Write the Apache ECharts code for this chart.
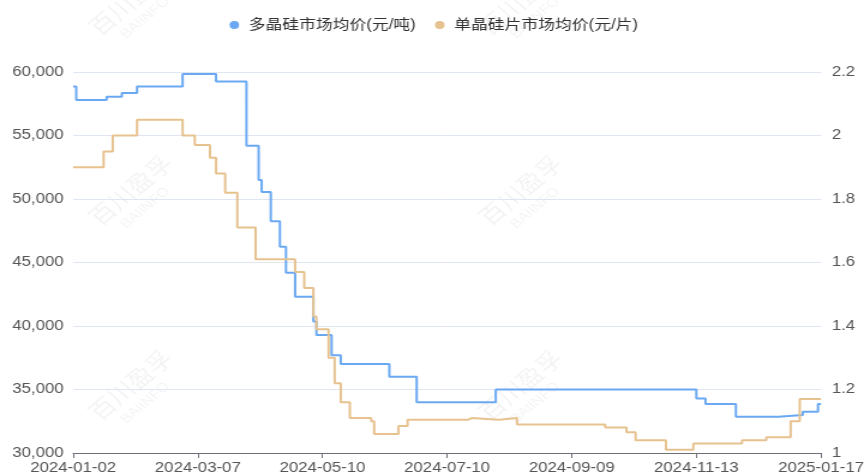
<!DOCTYPE html>
<html>
<head>
    <meta charset="utf-8">
    <title>多晶硅 / 单晶硅片市场均价</title>
    <script src="https://cdn.jsdelivr.net/npm/echarts@6/dist/echarts.min.js"></script>
    <style>
        html, body { margin: 0; padding: 0; overflow: hidden; background: #fff; }
        /* the original picture is stretched sideways, so draw narrow and widen it */
        #main { width: 723px; height: 476px; transform: scaleX(1.2); transform-origin: 0 0; }
    </style>
</head>
<body>
<div id="main"></div>
<script type="text/javascript">
    // x 轴刻度（每 41 个交易日一个）
    var xTickLabels = ['2024-01-02', '2024-03-07', '2024-05-10', '2024-07-10', '2024-09-09', '2024-11-13', '2025-01-17'];
    var tickStep = 41;

    // 多晶硅市场均价(元/吨)：价格变动的交易日序号与价格
    var polyDays   = [0, 1, 11, 16, 21, 36, 47, 57, 61, 62, 65, 68, 70, 73, 79, 80, 85, 88, 104, 113, 139, 205, 208, 218, 232, 240, 245, 246];
    var polyPrices = [58850, 57800, 58050, 58350, 58850, 59850, 59250, 54200, 51500, 50550, 48250, 46250, 44200, 42300, 40350, 39300, 37700, 37000, 36000, 34000, 35000, 34300, 33850, 32850, 33000, 33250, 33850, 33850];

    // 单晶硅片市场均价(元/片)
    var waferDays   = [0, 10, 13, 21, 36, 40, 45, 47, 50, 54, 60, 73, 76, 79, 80, 84, 86, 88, 91, 98, 99, 107, 110, 130, 131, 140, 146, 175, 182, 185, 195, 204, 220, 228, 236, 239, 246];
    var waferPrices = [1.90, 1.95, 2.00, 2.05, 2.00, 1.97, 1.93, 1.88, 1.82, 1.71, 1.61, 1.57, 1.52, 1.43, 1.39, 1.30, 1.22, 1.16, 1.11, 1.10, 1.06, 1.085, 1.105, 1.11, 1.105, 1.11, 1.09, 1.08, 1.065, 1.04, 1.01, 1.03, 1.04, 1.05, 1.10, 1.17, 1.17];

    function pairs(days, prices) {
        return days.map(function (d, i) { return [d, prices[i]]; });
    }

    // 水印
    var marks = [[108, 5], [433, 5], [108, 195], [433, 195], [108, 390], [433, 390]];
    var graphic = marks.map(function (p) {
        return {
            type: 'group', x: p[0], y: p[1], rotation: Math.PI / 4, silent: true, z: -1,
            children: [
                { type: 'text', x: -40, y: -14, style: { text: '百川盈孚', font: '22px "Noto Sans CJK SC"', fill: 'rgba(0,0,0,0.05)' } },
                { type: 'text', x: -26, y: 12, style: { text: 'BAIINFO', font: '13px "Liberation Sans"', fill: 'rgba(0,0,0,0.05)' } }
            ]
        };
    });

    var myChart = echarts.init(document.getElementById('main'));
    myChart.setOption({
        animation: false,
        textStyle: { fontFamily: '"Liberation Sans", "Noto Sans CJK SC", sans-serif' },
        graphic: graphic,
        tooltip: { trigger: 'axis' },
        legend: {
            top: 13,
            icon: 'circle',
            itemWidth: 14,
            itemHeight: 8,
            itemGap: 16,
            textStyle: { fontSize: 14, color: '#333' },
            data: ['多晶硅市场均价(元/吨)', '单晶硅片市场均价(元/片)']
        },
        grid: { left: 61, right: 38, top: 72, bottom: 23 },
        xAxis: {
            type: 'value',
            min: 0,
            max: tickStep * 6,
            interval: tickStep,
            splitLine: { show: false },
            axisLine: { show: true, lineStyle: { color: '#6e7079' } },
            axisTick: { show: true, lineStyle: { color: '#6e7079' } },
            axisLabel: {
                fontSize: 14, color: '#555', margin: 8,
                formatter: function (v) { return xTickLabels[Math.round(v / tickStep)] || ''; }
            }
        },
        yAxis: [
            {
                type: 'value', min: 30000, max: 60000, interval: 5000,
                axisLine: { show: false },
                axisTick: { show: false },
                axisLabel: { fontSize: 14, color: '#555', margin: 8 },
                splitLine: { lineStyle: { color: '#e0e6f1' } }
            },
            {
                type: 'value', min: 1, max: 2.2, interval: 0.2, position: 'right',
                axisLine: { show: false },
                axisTick: { show: false },
                axisLabel: { fontSize: 14, color: '#555', margin: 9 },
                splitLine: { show: false }
            }
        ],
        series: [
            {
                name: '多晶硅市场均价(元/吨)',
                type: 'line',
                step: 'end',
                yAxisIndex: 0,
                showSymbol: false,
                itemStyle: { color: '#6aa9f2' },
                lineStyle: { width: 2, color: '#6aa9f2' },
                data: pairs(polyDays, polyPrices)
            },
            {
                name: '单晶硅片市场均价(元/片)',
                type: 'line',
                step: 'end',
                yAxisIndex: 1,
                showSymbol: false,
                itemStyle: { color: '#e6c28f' },
                lineStyle: { width: 2, color: '#e6c28f' },
                data: pairs(waferDays, waferPrices)
            }
        ]
    });
</script>
</body>
</html>
